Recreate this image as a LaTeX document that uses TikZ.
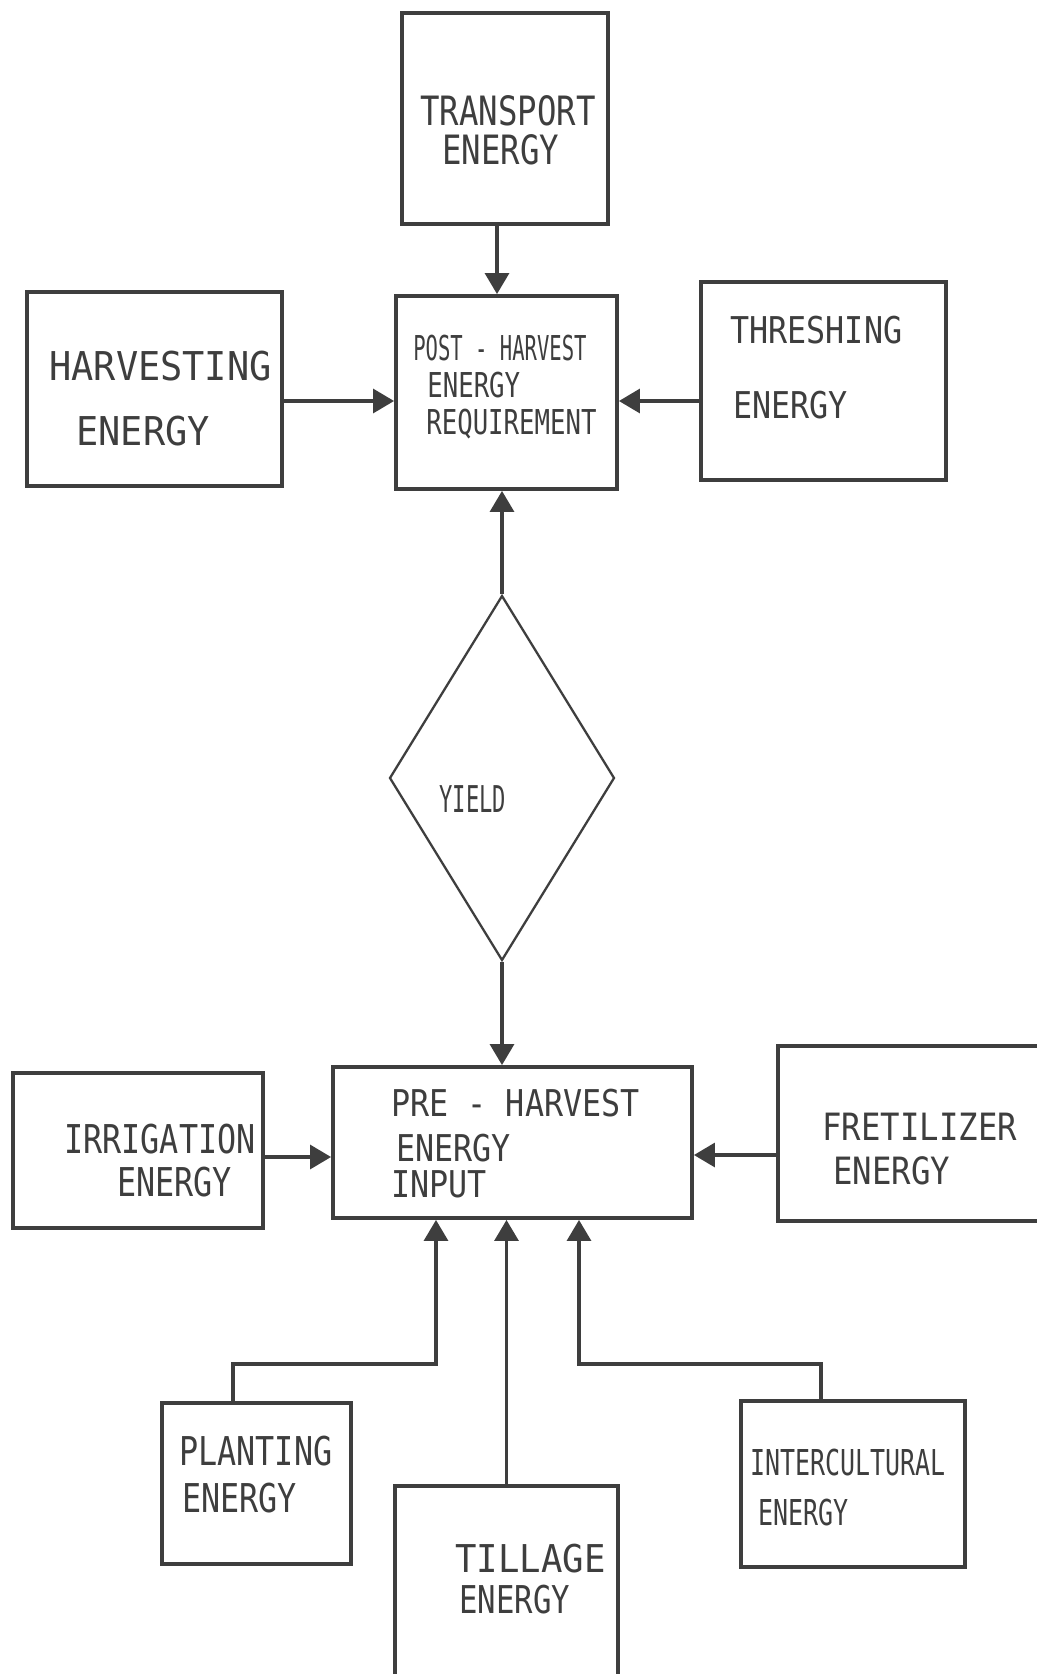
\documentclass[tikz,border=0pt]{standalone}
\usepackage{fontspec}
\usetikzlibrary{arrows.meta,shapes.geometric,fit}
\newfontfamily\boxfont[FakeStretch=0.8]{DejaVu Sans Mono}
\newfontfamily\broadfont[FakeStretch=0.86]{DejaVu Sans Mono}
\newfontfamily\thinfont[FakeStretch=0.7]{DejaVu Sans Mono}
\newfontfamily\postfont[FakeStretch=0.75]{DejaVu Sans Mono}
\newfontfamily\widefont[FakeStretch=0.93]{DejaVu Sans Mono}
\newfontfamily\yieldfont[FakeStretch=0.6]{DejaVu Sans Mono}
\definecolor{ink}{RGB}{62,62,62}

\begin{document}
\begin{tikzpicture}[x=0.02cm, y=-0.02cm,
    box/.style={draw=ink, line width=2.2pt, inner sep=0pt},
    lbl/.style={anchor=north west, inner sep=0pt, align=left, text=ink},
    flow/.style={draw=ink, line width=1.8pt, -{Triangle[length=0.42cm, width=0.48cm, fill=ink]}}]
      \useasboundingbox (0, 0) rectangle (1036, 1674);
      \node [box, fit={(402, 13) (608, 224)}] (transport) {};
      \node [box, fit={(27, 292) (282, 486)}] (harvest) {};
      \node [box, fit={(396, 296) (617, 489)}] (post) {};
      \node [box, fit={(701, 282) (946, 480)}] (thresh) {};
      \node [draw=ink, line width=1.3pt, diamond, inner sep=0pt,
             minimum width=4.5cm, minimum height=7.3cm] (yield) at (502, 778) {};
      \node [box, fit={(333, 1067) (692, 1218)}] (pre) {};
      \node [box, fit={(13, 1073) (263, 1228)}] (irrig) {};
      \node [box, fit={(778, 1046) (1060, 1221)}] (fert) {};
      \node [box, fit={(162, 1403) (351, 1564)}] (plant) {};
      \node [box, fit={(395, 1486) (618, 1700)}] (till) {};
      \node [box, fit={(741, 1401) (965, 1567)}] (inter) {};

      \node [lbl, font=\boxfont\fontsize{23}{22.5}\selectfont] (transport-t) at (420, 95)
            {TRANSPORT\\\hspace*{0.44cm}ENERGY};
      \node [lbl, font=\widefont\fontsize{22.6}{37}\selectfont] (harvest-t) at (49, 351)
            {HARVESTING\\\hspace*{0.54cm}ENERGY};
      \node [lbl, font=\postfont\fontsize{19.5}{21}\selectfont] (post-t) at (413, 335)
            {{\yieldfont POST - HARVEST}\\\hspace*{0.28cm}ENERGY\\\hspace*{0.26cm}REQUIREMENT};
      \node [lbl, font=\broadfont\fontsize{21}{42.7}\selectfont] (thresh-t) at (730, 316)
            {THRESHING\\\hspace*{0.06cm}ENERGY};
      \node [lbl, font=\yieldfont\fontsize{21}{24}\selectfont] (yield-t) at (439, 785) {YIELD};
      \node [lbl, font=\broadfont\fontsize{21}{25.6}\selectfont] (pre-t) at (391, 1089)
            {PRE - HARVEST\\\hspace*{0.1cm}ENERGY\\[-5pt]INPUT};
      \node [lbl, font=\boxfont\fontsize{22.6}{24.5}\selectfont] (irrig-t) at (64, 1124)
            {IRRIGATION\\\hspace*{1.06cm}ENERGY};
      \node [lbl, font=\broadfont\fontsize{21.4}{25}\selectfont] (fert-t) at (822, 1113)
            {FRETILIZER\\\hspace*{0.22cm}ENERGY};
      \node [lbl, font=\boxfont\fontsize{22.6}{26.7}\selectfont] (plant-t) at (179, 1436)
            {PLANTING\\\hspace*{0.06cm}ENERGY};
      \node [lbl, font=\boxfont\fontsize{21.8}{23.3}\selectfont] (till-t) at (455, 1544)
            {{\widefont TILLAGE}\\\hspace*{0.08cm}ENERGY};
      \node [lbl, font=\thinfont\fontsize{20.3}{28.5}\selectfont] (inter-t) at (750, 1449)
            {INTERCULTURAL\\\hspace*{0.16cm}ENERGY};

      \draw [flow] (transport.south -| 497, 0) -- (post.north -| 497, 0);
      \draw [flow] (harvest.east |- 0, 401) -- (post.west |- 0, 401);
      \draw [flow] (thresh.west |- 0, 401) -- (post.east |- 0, 401);
      \draw [flow] (yield.north) -- (post.south -| yield.north);
      \draw [flow] (yield.south) -- (pre.north -| yield.south);
      \draw [flow] (irrig.east |- 0, 1157) -- (pre.west |- 0, 1157);
      \draw [flow] (fert.west |- 0, 1155) -- (pre.east |- 0, 1155);
      \draw [flow] (plant.north -| 233, 0) |- (436, 1364) -- (pre.south -| 436, 0);
      \draw [flow] (till.north) -- (pre.south -| till.north);
      \draw [flow] (inter.north -| 821, 0) |- (579, 1364) -- (pre.south -| 579, 0);
\end{tikzpicture}
\end{document}
